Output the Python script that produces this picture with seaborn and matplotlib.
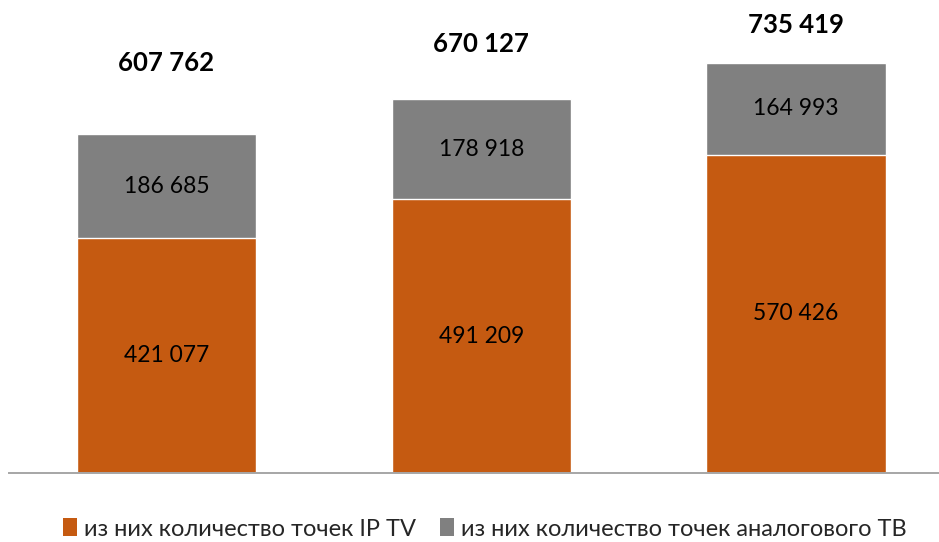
import matplotlib
matplotlib.use("Agg")
import matplotlib.pyplot as plt
import seaborn as sns
import pandas as pd
from matplotlib.patches import Patch

categories = ["A", "B", "C"]
ip_tv = [421077, 491209, 570426]
analog_tv = [186685, 178918, 164993]
totals = [607762, 670127, 735419]
total_label_y = [735000, 769500, 803500]

series_names = ["из них количество точек IP TV", "из них количество точек аналогового ТВ"]
colors = ["#C55A11", "#808080"]

df = pd.DataFrame({"cat": categories, "ip": ip_tv, "analog": analog_tv,
                   "total": [a + b for a, b in zip(ip_tv, analog_tv)]})

sns.set_style("white")
plt.rcParams["font.family"] = ["Lato", "DejaVu Sans"]

fig = plt.figure(figsize=(9.39, 5.42), dpi=100)
ax = fig.add_axes([9 / 939, (542 - 473) / 542, 930 / 939, 446 / 542])

sns.barplot(data=df, x="cat", y="total", color=colors[1], saturation=1, width=0.57, ax=ax)
sns.barplot(data=df, x="cat", y="ip", color=colors[0], saturation=1, width=0.57, ax=ax)

fmt = lambda v: f"{v:,}".replace(",", " ")
for i in range(len(categories)):
    ax.text(i, ip_tv[i] / 2, fmt(ip_tv[i]), ha="center", va="center", fontsize=16.5, color="#000000")
    ax.text(i, ip_tv[i] + analog_tv[i] / 2, fmt(analog_tv[i]), ha="center", va="center",
            fontsize=16.5, color="#000000")
    ax.text(i, total_label_y[i], fmt(totals[i]), ha="center", va="center", fontsize=18.5,
            fontweight="bold", color="#000000", clip_on=False)

ax.set_xlim(-0.5, 2.454)
ax.set_ylim(0, 800000)
ax.set_xlabel("")
ax.set_ylabel("")
ax.set_xticks([])
ax.set_yticks([])
for s in ["top", "right", "left"]:
    ax.spines[s].set_visible(False)
ax.spines["bottom"].set_color("#A6A6A6")
ax.spines["bottom"].set_linewidth(1.4)

handles = [Patch(facecolor=c, edgecolor="none") for c in colors]
fig.legend(handles, series_names, loc="center", bbox_to_anchor=(485 / 939, 1 - 529 / 542),
           ncol=2, frameon=False, fontsize=17, handlelength=0.6, handleheight=0.8,
           handletextpad=0.3, columnspacing=1.0)

fig.savefig("out.png", dpi=100)
